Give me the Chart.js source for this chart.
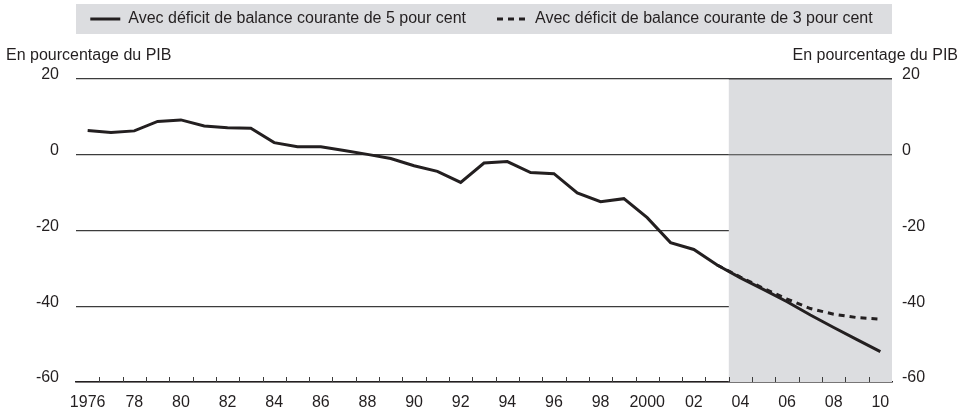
<!DOCTYPE html>
<html lang="fr">
<head>
<meta charset="utf-8">
<title>Dette en pourcentage du PIB</title>
<script src="https://cdn.jsdelivr.net/npm/chart.js@4.4.1/dist/chart.umd.min.js"></script>
<style>
    html, body { margin: 0; padding: 0; background: #ffffff; }
    #wrap { position: relative; width: 963px; height: 411px; }
</style>
</head>
<body>
<div id="wrap"><canvas id="detteChart" width="963" height="411"></canvas></div>
<script>
// Données
const annees = ['1976', '1977', '1978', '1979', '1980', '1981', '1982', '1983', '1984', '1985',
    '1986', '1987', '1988', '1989', '1990', '1991', '1992', '1993', '1994', '1995',
    '1996', '1997', '1998', '1999', '2000', '2001', '2002', '2003', '2004', '2005',
    '2006', '2007', '2008', '2009', '2010'];
const etiquettesX = ['1976', '', '78', '', '80', '', '82', '', '84', '',
    '86', '', '88', '', '90', '', '92', '', '94', '',
    '96', '', '98', '', '2000', '', '02', '', '04', '',
    '06', '', '08', '', '10'];
const deficit5 = [6.4, 5.9, 6.3, 8.8, 9.2, 7.6, 7.1, 7.0, 3.2, 2.1,
    2.1, 1.1, 0.1, -1.0, -2.9, -4.4, -7.3, -2.2, -1.8, -4.7,
    -5.0, -10.1, -12.4, -11.6, -16.6, -23.2, -25.0, -29.1, -32.5, -35.6,
    -38.8, -42.3, -45.6, -48.8, -52.0];
const deficit3 = [null, null, null, null, null, null, null, null, null, null,
    null, null, null, null, null, null, null, null, null, null,
    null, null, null, null, null, null, null, -29.1, -32.3, -35.3,
    -38.1, -40.6, -42.1, -43.0, -43.4];
const ticksY = [-60, -40, -20, 0, 20];
const debutProjection = '2004';
const lignesAuDessus = [20, 0];

const encre = '#231f20';
const gris = '#dcdde0';
const police = "'Liberation Sans', Arial, Helvetica, sans-serif";

// Fond gris de la légende, zone de projection et petites graduations
const decorPlugin = {
    id: 'decor',
    beforeInit(chart) {
        // On agrandit la légende pour laisser la place aux titres d'axes
        const fitOrigine = chart.legend.fit;
        chart.legend.fit = function () {
            fitOrigine.bind(chart.legend)();
            this.height = 99;
        };
    },
    beforeDraw(chart) {
        const ctx = chart.ctx;
        const area = chart.chartArea;
        ctx.save();
        ctx.fillStyle = gris;
        ctx.fillRect(area.left, 4, area.right - area.left, 30);
        ctx.restore();
    },
    beforeDatasetsDraw(chart) {
        const ctx = chart.ctx;
        const area = chart.chartArea;
        const x = chart.scales.x;
        const y = chart.scales.y;
        const idx = annees.indexOf(debutProjection);
        const demi = (x.getPixelForValue(1) - x.getPixelForValue(0)) / 2;
        const gauche = x.getPixelForValue(idx) - demi;
        ctx.save();
        ctx.fillStyle = gris;
        ctx.fillRect(gauche, area.top, area.right - gauche, area.bottom - area.top);
        // les lignes 20 et 0 restent visibles sur la zone grise
        ctx.strokeStyle = '#3c3c3c';
        ctx.lineWidth = 1.2;
        lignesAuDessus.forEach(v => {
            const py = y.getPixelForValue(v);
            ctx.beginPath();
            ctx.moveTo(gauche, py);
            ctx.lineTo(area.right, py);
            ctx.stroke();
        });
        ctx.restore();
    },
    afterDraw(chart) {
        const ctx = chart.ctx;
        const area = chart.chartArea;
        const x = chart.scales.x;
        ctx.save();
        // graduations entre chaque année
        ctx.strokeStyle = '#3c3c3c';
        ctx.lineWidth = 1;
        for (let i = 1; i < annees.length; i++) {
            const px = Math.round((x.getPixelForValue(i - 1) + x.getPixelForValue(i)) / 2) + 0.5;
            ctx.beginPath();
            ctx.moveTo(px, area.bottom);
            ctx.lineTo(px, area.bottom - 5);
            ctx.stroke();
        }
        // titres des axes
        ctx.fillStyle = encre;
        ctx.font = '16px ' + police;
        ctx.textBaseline = 'middle';
        ctx.textAlign = 'left';
        ctx.fillText('En pourcentage du PIB', 6, 56);
        ctx.textAlign = 'right';
        ctx.fillText('En pourcentage du PIB', 958, 56);
        ctx.restore();
    }
};

document.addEventListener('DOMContentLoaded', function() {
    const ctx = document.getElementById('detteChart').getContext('2d');
    Chart.defaults.font.family = police;
    Chart.defaults.font.size = 16;
    Chart.defaults.color = encre;

    new Chart(ctx, {
        type: 'line',
        data: {
            labels: annees,
            datasets: [
                {
                    label: 'Avec déficit de balance courante de 5 pour cent',
                    data: deficit5,
                    borderColor: encre,
                    backgroundColor: encre,
                    borderWidth: 3,
                    pointRadius: 0,
                    tension: 0,
                    fill: false
                },
                {
                    label: 'Avec déficit de balance courante de 3 pour cent',
                    data: deficit3,
                    borderColor: encre,
                    backgroundColor: encre,
                    borderWidth: 3,
                    borderDash: [6, 5],
                    pointRadius: 0,
                    tension: 0,
                    fill: false
                }
            ]
        },
        options: {
            responsive: false,
            animation: false,
            layout: {
                padding: { top: -20, left: 0, right: 0, bottom: 0 }
            },
            plugins: {
                legend: {
                    position: 'top',
                    labels: {
                        usePointStyle: true,
                        pointStyle: 'line',
                        pointStyleWidth: 30,
                        padding: 31,
                        color: encre,
                        font: { size: 16 },
                        // le style de point ne reprend pas les tirets : on les remet
                        generateLabels: chart => {
                            const items = Chart.defaults.plugins.legend.labels.generateLabels(chart);
                            items.forEach(item => {
                                const ds = chart.data.datasets[item.datasetIndex];
                                item.lineDash = ds.borderDash || [];
                                item.lineWidth = ds.borderWidth;
                            });
                            return items;
                        }
                    }
                },
                tooltip: { enabled: false }
            },
            scales: {
                x: {
                    offset: true,
                    grid: { display: true, drawOnChartArea: false, drawTicks: false },
                    border: { display: true, color: encre, width: 1.5 },
                    ticks: {
                        autoSkip: false,
                        maxRotation: 0,
                        padding: 11,
                        callback: (val, i) => etiquettesX[i]
                    },
                    afterFit: scale => { scale.height = 29; }
                },
                y: {
                    position: 'left',
                    min: -60,
                    max: 20,
                    afterBuildTicks: scale => { scale.ticks = ticksY.map(v => ({ value: v })); },
                    grid: { color: '#3c3c3c', lineWidth: 1.2, drawTicks: false },
                    border: { display: false },
                    ticks: { padding: 17, labelOffset: -4 },
                    afterFit: scale => { scale.width = 76; }
                },
                y1: {
                    position: 'right',
                    min: -60,
                    max: 20,
                    afterBuildTicks: scale => { scale.ticks = ticksY.map(v => ({ value: v })); },
                    grid: { drawOnChartArea: false, drawTicks: false },
                    border: { display: false },
                    ticks: { padding: 10, labelOffset: -4 },
                    afterFit: scale => { scale.width = 71; }
                }
            }
        },
        plugins: [decorPlugin]
    });
});
</script>
</body>
</html>
